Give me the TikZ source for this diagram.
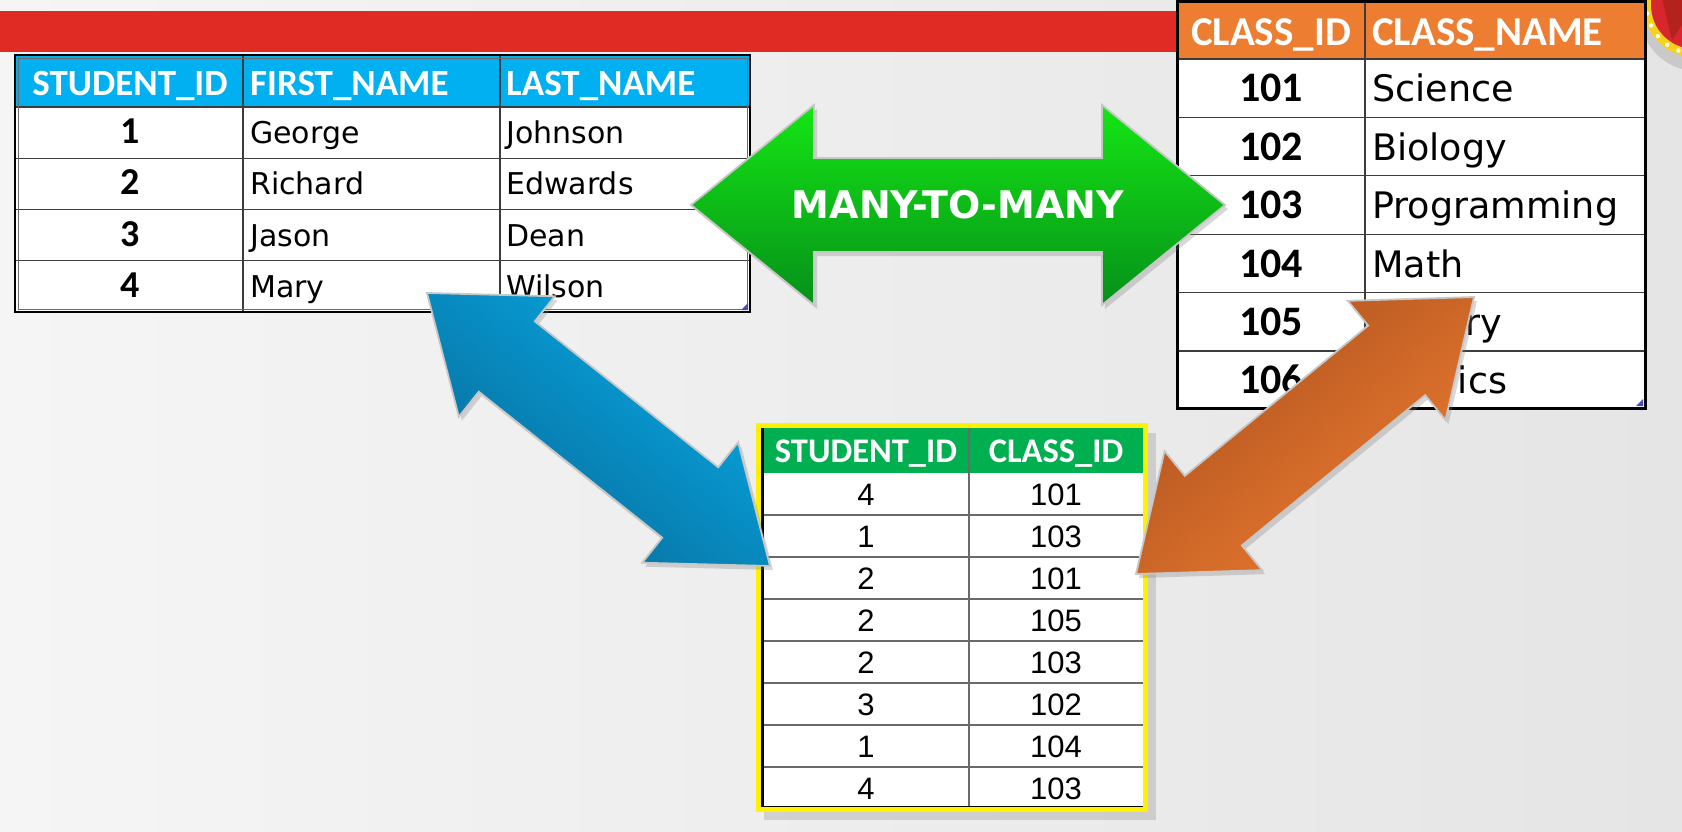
\documentclass[tikz,border=0pt]{standalone}
\usepackage{fontspec}
\usetikzlibrary{calc,shadows}

\newfontfamily\hdfont{Carlito}
\newfontfamily\txtfont{DejaVu Sans}
\newfontfamily\numfont{Liberation Sans}

\definecolor{barred}{HTML}{E02A24}
\definecolor{logored}{HTML}{D8262E}
\definecolor{logoyellow}{HTML}{F7D21B}
\definecolor{hdblue}{HTML}{00B0F0}
\definecolor{hdorange}{HTML}{ED7D31}
\definecolor{hdgreen}{HTML}{00B050}
\definecolor{gridgray}{HTML}{3C3C3C}
\definecolor{gridlight}{HTML}{6A6A6A}
\definecolor{arrgreenT}{HTML}{14E614}
\definecolor{arrgreenB}{HTML}{06901A}
\definecolor{arrblueL}{HTML}{05A9E5}
\definecolor{arrblueD}{HTML}{0A6A98}
\definecolor{arrorD}{HTML}{AE521E}
\definecolor{arrorL}{HTML}{EC7B31}
\definecolor{bgL}{HTML}{F5F5F5}
\definecolor{bgD}{HTML}{E5E5E5}

% two-headed block arrow: #1 style, #2 one tip, #3 other tip,
% #4 head length, #5 head half width, #6 shaft half width
\newcommand{\blockarrow}[6]{%
  \coordinate (ba-p) at ($(#2)!#4!(#3)$);
  \coordinate (ba-q) at ($(#3)!#4!(#2)$);
  \path[#1] (#2) -- ($(ba-p)!#5!90:(#3)$) -- ($(ba-p)!#6!90:(#3)$)
    -- ($(ba-q)!#6!-90:(#2)$) -- ($(ba-q)!#5!-90:(#2)$) -- (#3)
    -- ($(ba-q)!#5!90:(#2)$) -- ($(ba-q)!#6!90:(#2)$)
    -- ($(ba-p)!#6!-90:(#3)$) -- ($(ba-p)!#5!-90:(#3)$) -- cycle;
}

\begin{document}
\begin{tikzpicture}[x=1pt,y=-1pt,
    grid/.style={draw=gridgray,line width=1.3pt},
    hdtext/.style={inner sep=0pt,text=white,font=\hdfont\bfseries\fontsize{#1}{#1}\selectfont},
    idtext/.style={inner sep=0pt,font=\hdfont\bfseries\fontsize{#1}{#1}\selectfont},
    nametext/.style={inner sep=0pt,font=\txtfont\fontsize{#1}{#1}\selectfont},
    numtext/.style={inner sep=0pt,font=\numfont\fontsize{31}{31}\selectfont},
    arrowline/.style={draw=black!22,line width=1.8pt,
      drop shadow={shadow xshift=3pt,shadow yshift=-4pt,opacity=.3}}]
  \useasboundingbox (0,0) rectangle (1682,831);

  % background and title bar
  \shade[left color=bgL,right color=bgD] (0,0) rectangle (1682,831);
  \fill[barred] (0,11) rectangle (1177,52);

  % logo, top right corner
  \begin{scope}
    \clip (0,0) rectangle (1682,831);
    \fill[black,opacity=.12] (1697,14) circle (57);
    \fill[logoyellow] (1695,5) circle (52);
    \fill[logored] (1695,5) circle (44);
    \fill[barred!80!black] (1695,5) -- (1660,-10) -- (1672,40) -- cycle;
    \foreach \a in {95,110,...,170}
      \fill[white] ($(1695,5)+(\a:48.5)$) circle (2.2);
  \end{scope}

  % ================= STUDENT table =================
  \fill[white] (15,55) rectangle (750,312);
  \fill[hdblue] (15,55) rectangle (750,107);
  \foreach \y in {107,158.25,209.5,260.75}
    \draw[grid] (15,\y) -- (750,\y);
  \foreach \x in {243,500}
    \draw[grid] (\x,55) -- (\x,312);
  \draw[gridlight,line width=0.8pt] (18,58) rectangle (747,309);
  \draw[line width=2.2pt] (15,55) rectangle (750,312);
  \fill[blue!60!black!70] (741,310) -- (748,310) -- (748,303) -- cycle;

  \node[hdtext=37,anchor=base] (stu-h1) at (130,95) {STUDENT\_ID};
  \node[hdtext=37,anchor=base west] (stu-h2) at (250,95) {FIRST\_NAME};
  \node[hdtext=37,anchor=base west] (stu-h3) at (506,95) {LAST\_NAME};
  \foreach \id/\first/\last [count=\i] in
      {1/George/Johnson,2/Richard/Edwards,3/Jason/Dean,4/Mary/Wilson} {
    \pgfmathsetmacro\yb{107+51.25*\i-14.7}
    \node[idtext=38,anchor=base] (stu-\i-id) at (130,\yb) {\id};
    \node[nametext=30,anchor=base west] (stu-\i-first) at (250,\yb) {\first};
    \node[nametext=30,anchor=base west] (stu-\i-last) at (506,\yb) {\last};
  }

  % ================= CLASS table =================
  \fill[white] (1177,1) rectangle (1645,408);
  \fill[hdorange] (1177,1) rectangle (1645,59);
  \foreach \y in {59,117.4,175.8,234.2,292.6,351}
    \draw[grid] (1177,\y) -- (1645,\y);
  \draw[grid] (1365,1) -- (1365,408);
  \draw[line width=3pt] (1177,1) rectangle (1645,408);
  \fill[blue!60!black!70] (1636,406) -- (1643,406) -- (1643,399) -- cycle;

  \node[hdtext=41,anchor=base] (cls-h1) at (1271,45) {CLASS\_ID};
  \node[hdtext=41,anchor=base west] (cls-h2) at (1372,45) {CLASS\_NAME};
  \foreach \id/\cname [count=\i] in
      {101/Science,102/Biology,103/Programming,104/Math,
       105/\phantom{Histo}ry,106/\phantom{Phys}ics} {
    \pgfmathsetmacro\yb{59+58.4*\i-15.5}
    \node[idtext=42,anchor=base] (cls-\i-id) at (1271,\yb) {\id};
    \node[nametext=36.5,anchor=base west] (cls-\i-name) at (1372,\yb) {\cname};
  }

  % ================= STUDENT_CLASS table =================
  \fill[black,opacity=.12] (764,433) rectangle (1156,820);
  \fill[white] (761,427) rectangle (1143,807);
  \fill[hdgreen] (761,427) rectangle (1143,473);
  \foreach \i in {1,...,7}
    \draw[draw=gridlight,line width=1.3pt] (761,473+42*\i) -- (1143,473+42*\i);
  \draw[draw=gridlight,line width=1.3pt] (969,427) -- (969,807);
  \draw[line width=3pt] (762,427) -- (762,807) -- (1143,807);
  \draw[yellow,line width=5pt] (758.5,425) rectangle (1145,809.5);

  \node[hdtext=34.5,anchor=base] (enr-h1) at (866,462) {STUDENT\_ID};
  \node[hdtext=34.5,anchor=base] (enr-h2) at (1056,462) {CLASS\_ID};
  \foreach \s/\c [count=\i] in
      {4/101,1/103,2/101,2/105,2/103,3/102,1/104,4/103} {
    \pgfmathsetmacro\yb{473+42*\i-10}
    \node[numtext,anchor=base] (enr-\i-s) at (866,\yb) {\s};
    \node[numtext,anchor=base] (enr-\i-c) at (1056,\yb) {\c};
  }

  % ================= arrows =================
  \coordinate (stu-tip) at (427,293);
  \coordinate (enr-tl) at (770,566);
  \coordinate (enr-tr) at (1136,574);
  \coordinate (cls-tip) at (1474,297);
  \coordinate (mm-l) at (691,205);
  \coordinate (mm-r) at (1225,205);

  \blockarrow{arrowline,top color=arrblueL,bottom color=arrblueD,shading angle=-38.6}%
    {stu-tip}{enr-tl}{102pt}{77pt}{45pt}
  \blockarrow{arrowline,top color=arrorD,bottom color=arrorL,shading angle=39.4}%
    {enr-tr}{cls-tip}{100pt}{77pt}{45pt}
  \blockarrow{arrowline,top color=arrgreenT,bottom color=arrgreenB}%
    {mm-l}{mm-r}{123pt}{100pt}{47pt}

  \node[inner sep=0pt,text=white,font=\txtfont\bfseries\fontsize{38}{38}\selectfont]
    (mtm) at ($(mm-l)!.5!(mm-r)$) {MANY-TO-MANY};
\end{tikzpicture}
\end{document}
